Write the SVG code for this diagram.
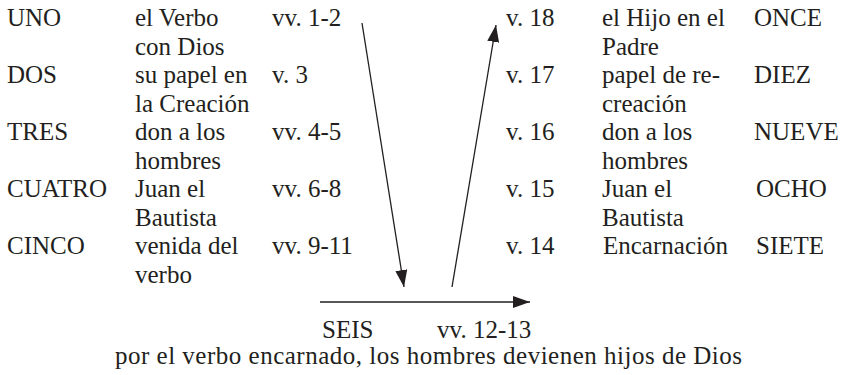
<svg xmlns="http://www.w3.org/2000/svg" width="848" height="375" viewBox="0 0 848 375">
<defs>
<marker id="ah" viewBox="0 0 17 12" refX="17" refY="6" markerWidth="17" markerHeight="12" markerUnits="userSpaceOnUse" orient="auto">
<path d="M0,0 L17,6 L0,12 Z" fill="#231f20"/>
</marker>
</defs>
<rect width="848" height="375" fill="#fff"/>
<g fill="#231f20">
<g id="uno"><text style="font-family:'Liberation Serif';font-size:25px" x="7" y="26">UNO</text><text style="font-family:'Liberation Serif';font-size:25px" x="135" y="26">el Verbo</text><text style="font-family:'Liberation Serif';font-size:25px" x="135" y="54.5">con Dios</text><text style="font-family:'Liberation Serif';font-size:25px" x="272" y="26">vv. 1-2</text></g>
<g id="dos"><text style="font-family:'Liberation Serif';font-size:25px" x="7" y="83">DOS</text><text style="font-family:'Liberation Serif';font-size:25px" x="135" y="83">su papel en</text><text style="font-family:'Liberation Serif';font-size:25px" x="135" y="111.5">la Creación</text><text style="font-family:'Liberation Serif';font-size:25px" x="272" y="83">v. 3</text></g>
<g id="tres"><text style="font-family:'Liberation Serif';font-size:25px" x="7" y="140">TRES</text><text style="font-family:'Liberation Serif';font-size:25px" x="135" y="140">don a los</text><text style="font-family:'Liberation Serif';font-size:25px" x="135" y="168.5">hombres</text><text style="font-family:'Liberation Serif';font-size:25px" x="272" y="140">vv. 4-5</text></g>
<g id="cuatro"><text style="font-family:'Liberation Serif';font-size:25px" x="7" y="197">CUATRO</text><text style="font-family:'Liberation Serif';font-size:25px" x="135" y="197">Juan el</text><text style="font-family:'Liberation Serif';font-size:25px" x="135" y="225.5">Bautista</text><text style="font-family:'Liberation Serif';font-size:25px" x="272" y="197">vv. 6-8</text></g>
<g id="cinco"><text style="font-family:'Liberation Serif';font-size:25px" x="7" y="254">CINCO</text><text style="font-family:'Liberation Serif';font-size:25px" x="135" y="254">venida del</text><text style="font-family:'Liberation Serif';font-size:25px" x="135" y="282.5">verbo</text><text style="font-family:'Liberation Serif';font-size:25px" x="272" y="254">vv. 9-11</text></g>
<g id="once"><text style="font-family:'Liberation Serif';font-size:25px" x="506" y="26">v. 18</text><text style="font-family:'Liberation Serif';font-size:25px" x="602" y="26">el Hijo en el</text><text style="font-family:'Liberation Serif';font-size:25px" x="602" y="54.5">Padre</text><text style="font-family:'Liberation Serif';font-size:25px" x="754" y="26">ONCE</text></g>
<g id="diez"><text style="font-family:'Liberation Serif';font-size:25px" x="506" y="83">v. 17</text><text style="font-family:'Liberation Serif';font-size:25px" x="602" y="83">papel de re-</text><text style="font-family:'Liberation Serif';font-size:25px" x="602" y="111.5">creación</text><text style="font-family:'Liberation Serif';font-size:25px" x="754" y="83">DIEZ</text></g>
<g id="nueve"><text style="font-family:'Liberation Serif';font-size:25px" x="506" y="140">v. 16</text><text style="font-family:'Liberation Serif';font-size:25px" x="602" y="140">don a los</text><text style="font-family:'Liberation Serif';font-size:25px" x="602" y="168.5">hombres</text><text style="font-family:'Liberation Serif';font-size:25px" x="754" y="140">NUEVE</text></g>
<g id="ocho"><text style="font-family:'Liberation Serif';font-size:25px" x="506" y="197">v. 15</text><text style="font-family:'Liberation Serif';font-size:25px" x="602" y="197">Juan el</text><text style="font-family:'Liberation Serif';font-size:25px" x="602" y="225.5">Bautista</text><text style="font-family:'Liberation Serif';font-size:25px" x="756" y="197">OCHO</text></g>
<g id="siete"><text style="font-family:'Liberation Serif';font-size:25px" x="506" y="254">v. 14</text><text style="font-family:'Liberation Serif';font-size:25px" x="603" y="254">Encarnación</text><text style="font-family:'Liberation Serif';font-size:25px" x="756" y="254">SIETE</text></g>
<g id="seis"><text style="font-family:'Liberation Serif';font-size:25px" x="322" y="338">SEIS</text><text style="font-family:'Liberation Serif';font-size:25px" x="437" y="338">vv. 12-13</text><text style="font-family:'Liberation Serif';font-size:25px" x="115" y="364" textLength="627" lengthAdjust="spacing">por el verbo encarnado, los hombres devienen hijos de Dios</text></g>
</g>
<g id="connectors" stroke="#231f20" stroke-width="1.3" fill="none">
<line x1="362" y1="23" x2="404" y2="287" marker-end="url(#ah)"/>
<line x1="452" y1="287" x2="496" y2="25" marker-end="url(#ah)"/>
<line x1="320" y1="302" x2="530" y2="302" marker-end="url(#ah)"/>
</g>
</svg>
